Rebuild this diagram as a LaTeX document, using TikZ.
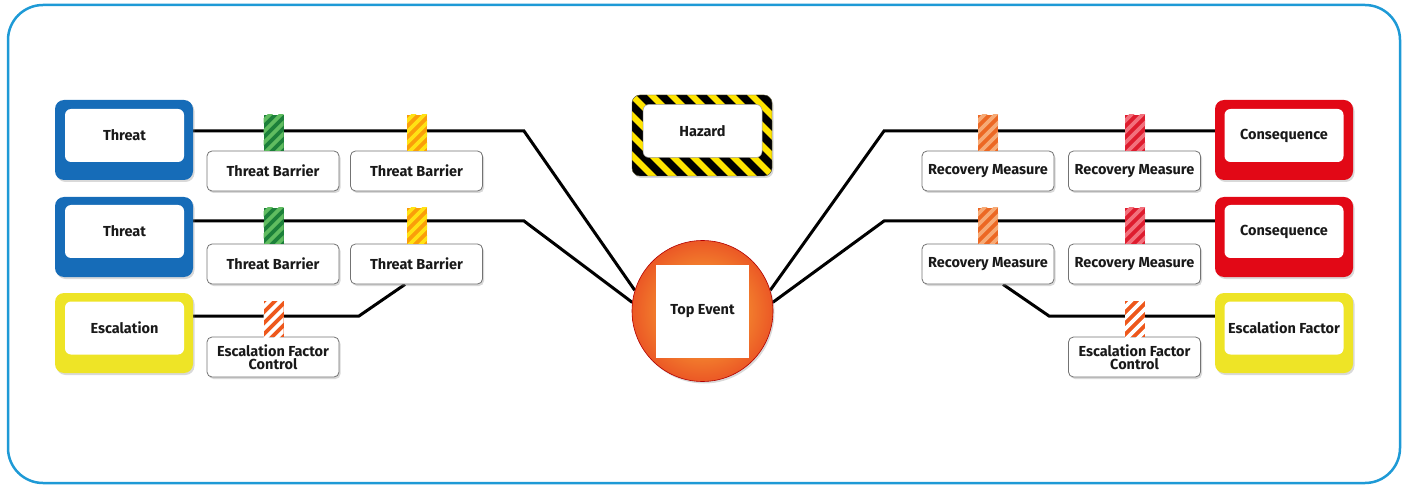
\documentclass[tikz,border=0pt]{standalone}
\usepackage{fontspec}
\setmainfont{Fira Sans}
\usetikzlibrary{shadows,backgrounds}

\definecolor{frameblue}{RGB}{30,154,214}
\definecolor{thrblue}{RGB}{22,108,184}
\definecolor{conred}{RGB}{226,8,22}
\definecolor{escyel}{RGB}{238,228,38}
\definecolor{hazyel}{RGB}{255,228,0}
\definecolor{grnA}{RGB}{28,128,58}
\definecolor{grnB}{RGB}{96,188,96}
\definecolor{yelA}{RGB}{250,158,10}
\definecolor{yelB}{RGB}{255,226,20}
\definecolor{oraA}{RGB}{236,104,36}
\definecolor{oraB}{RGB}{246,170,118}
\definecolor{redA}{RGB}{222,28,46}
\definecolor{redB}{RGB}{242,112,124}
\definecolor{escA}{RGB}{238,88,28}
\definecolor{txt}{RGB}{25,25,25}
\definecolor{glowA}{RGB}{246,150,50}
\definecolor{glowB}{RGB}{236,92,38}
\definecolor{glowC}{RGB}{222,46,30}

\pgfdeclareradialshading{topglow}{\pgfpoint{0bp}{0bp}}{color(0bp)=(glowA); color(10bp)=(glowA); color(24bp)=(glowB); color(34bp)=(glowC); color(100bp)=(glowC)}

\tikzset{
  boxshadow/.style={drop shadow={shadow xshift=1.5pt, shadow yshift=-2pt, opacity=0.3}},
  outerbox/.style={rounded corners=9pt, fill=#1, minimum width=138pt, minimum height=80pt, boxshadow},
  innerbox/.style={rounded corners=6pt, fill=white, minimum width=119pt, minimum height=53pt, text=txt, font=\bfseries\fontsize{14.5}{16}\selectfont},
  barrierbox/.style={rounded corners=5pt, fill=white, draw=black!55, line width=0.8pt, minimum width=132pt, minimum height=40pt, inner sep=2pt, align=center, text=txt, font=\bfseries\fontsize{14.5}{13.5}\selectfont, boxshadow},
  stripebar/.style 2 args={minimum width=20pt, minimum height=36pt, inner sep=0pt, fill=#1,
    path picture={\foreach \k in {-5,...,5}
      \draw[#2, line width=3.8pt] ([xshift=\k*11pt]path picture bounding box.center) ++(-25pt,-25pt) -- ++(50pt,50pt);}},
  link/.style={line width=3pt, black, line join=miter}
}

\begin{document}
\begin{tikzpicture}[x=1pt, y=-1pt]
\useasboundingbox (0,0) rectangle (1407,486);
\draw[frameblue, line width=2.5pt, rounded corners=35pt] (8,5) rectangle (1400,483);

% hazard
\node[rounded corners=8pt, draw=black!70, fill=hazyel, minimum width=140pt, minimum height=81pt, boxshadow,
  path picture={\foreach \k in {-10,...,10}
    \draw[black, line width=7.5pt] ([xshift=\k*20pt]path picture bounding box.center) ++(-60pt,60pt) -- ++(120pt,-120pt);}]
  (haz) at (702,135.5) {};
\node[innerbox, draw=black!40, line width=0.5pt] (hazt) at (702.5,131) {Hazard};

% top event
\node[circle, minimum size=141pt, draw=red!70!black, line width=0.6pt, shading=topglow, boxshadow] (top) at (702.5,311) {};
\node[fill=white, minimum size=93pt, text=txt, font=\bfseries\fontsize{14.5}{16}\selectfont] (topt) at (702.5,311.5) {Top Event};

% threats
\node[outerbox=thrblue] (thr1) at (124,140) {};
\node[innerbox] (thr1t) at (124.5,135.5) {Threat};
\node[outerbox=thrblue] (thr2) at (124,237) {};
\node[innerbox] (thr2t) at (124.5,231.5) {Threat};
\node[outerbox=escyel] (esc) at (124,333) {};
\node[innerbox] (esct) at (124.5,328) {Escalation};

\node[barrierbox] (tb1) at (273,171) {Threat Barrier};
\node[barrierbox] (tb2) at (416.5,171) {Threat Barrier};
\node[barrierbox] (tb3) at (273,264) {Threat Barrier};
\node[barrierbox] (tb4) at (416.5,264) {Threat Barrier};
\node[barrierbox] (efc1) at (273,357) {Escalation Factor\\Control};

\node[stripebar={grnA}{grnB}] (s1) at (273.5,133) {};
\node[stripebar={yelA}{yelB}] (s2) at (417,133) {};
\node[stripebar={grnA}{grnB}] (s3) at (273.5,226) {};
\node[stripebar={yelA}{yelB}] (s4) at (417,226) {};
\node[stripebar={escA}{white}] (s5) at (273.5,319) {};

% consequences
\node[outerbox=conred] (con1) at (1284,140) {};
\node[innerbox] (con1t) at (1284,135.5) {Consequence};
\node[outerbox=conred] (con2) at (1284,237) {};
\node[innerbox] (con2t) at (1284,231.5) {Consequence};
\node[outerbox=escyel] (escf) at (1284,333) {};
\node[innerbox] (escft) at (1284,328) {Escalation Factor};

\node[barrierbox] (rm1) at (988,171) {Recovery Measure};
\node[barrierbox] (rm2) at (1134.5,171) {Recovery Measure};
\node[barrierbox] (rm3) at (988,264) {Recovery Measure};
\node[barrierbox] (rm4) at (1134.5,264) {Recovery Measure};
\node[barrierbox] (efc2) at (1134.5,357) {Escalation Factor\\Control};

\node[stripebar={oraA}{oraB}] (s6) at (988,133) {};
\node[stripebar={redA}{redB}] (s7) at (1135,133) {};
\node[stripebar={oraA}{oraB}] (s8) at (988,226) {};
\node[stripebar={redA}{redB}] (s9) at (1135,226) {};
\node[stripebar={escA}{white}] (s10) at (1135,319) {};

\coordinate (b1) at (524,131);
\coordinate (b2) at (524,221);
\coordinate (b3) at (359,316);
\coordinate (b4) at (884,131);
\coordinate (b5) at (884,221);
\coordinate (b6) at (1049,316);

\begin{scope}[on background layer]
\draw[link] ([yshift=9pt]thr1.east) -- (b1) -- (top.163);
\draw[link] ([yshift=16pt]thr2.east) -- (b2) -- (top.173);
\draw[link] ([yshift=17pt]esc.east) -- (b3) -- ([xshift=-11.5pt]tb4.south);
\draw[link] ([yshift=9pt]con1.west) -- (b4) -- (top.17);
\draw[link] ([yshift=16pt]con2.west) -- (b5) -- (top.7);
\draw[link] ([yshift=17pt]escf.west) -- (b6) -- ([xshift=15pt]rm3.south);
\end{scope}
\end{tikzpicture}
\end{document}
